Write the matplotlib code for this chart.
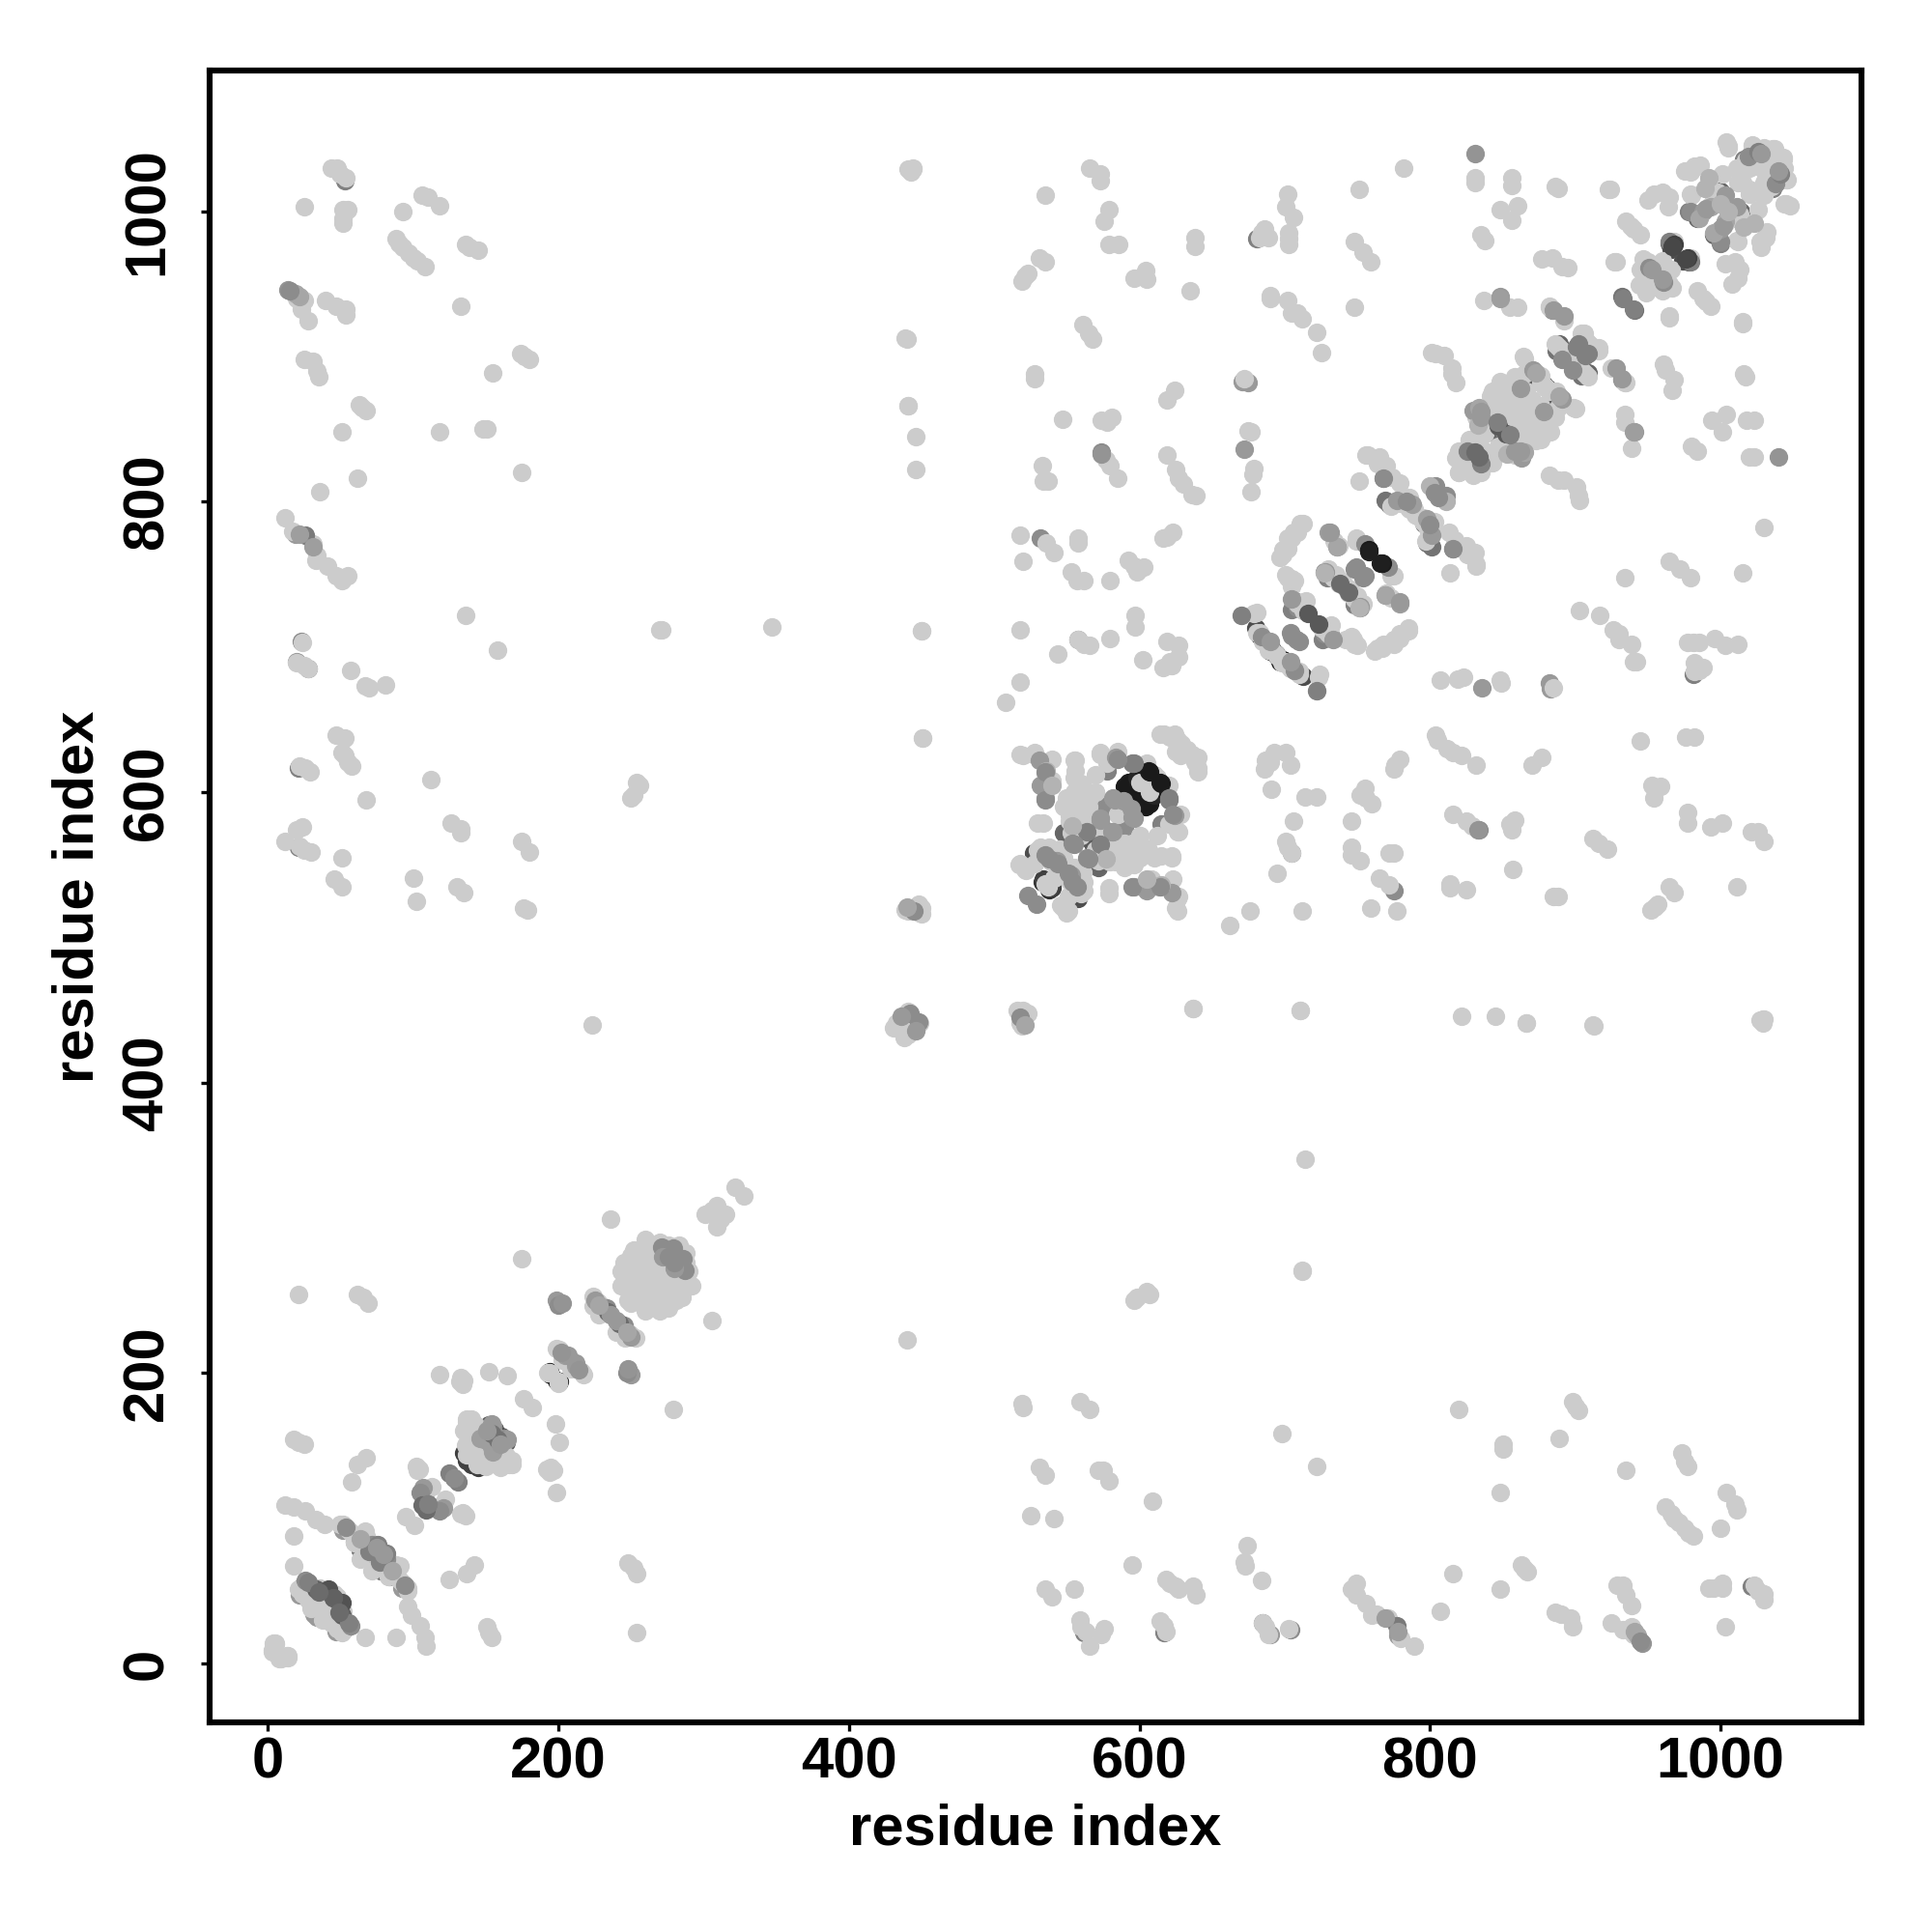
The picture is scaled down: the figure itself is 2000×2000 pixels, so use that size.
import matplotlib
matplotlib.use("Agg")
import matplotlib.pyplot as plt

plt.rcParams['font.family'] = ['Liberation Sans', 'DejaVu Sans']

# contacts are read once (i, j) and drawn on both sides of the diagonal
# darker discs that only show as a rim below the light ones: (i, j, grey)
under_contacts = [
    (24, 53, .55), (28, 50, .45), (22, 47, .6), (38, 45, .4), (35, 42, .5), (34, 32, .6), (42, 33, .6), (30, 42, .5),
    (52, 92, .6), (60, 84, .5), (64, 78, .45), (68, 76, .5), (66, 84, .55),
    (135, 145, .25), (140, 137, .25), (152, 164, .35), (156, 161, .3), (142, 156, .6),
    (195, 199, .15), (194, 201, .15),
    (268, 278, .35), (272, 283, .4), (276, 280, .35), (271, 289, .6),
    (574, 834, .55), (23, 704, .55), (20, 690, .6), (21, 617, .5), (21, 562, .5), (28, 685, .5),
    (53, 1021, .5), (19, 778, .6), (681, 981, .5),
    (532, 775, .55), (558, 705, .55), (671, 883, .6),
    (527, 558, .3), (538, 533, .2), (547, 548, .3), (534, 540, .25), (560, 586, .2), (548, 572, .4),
    (578, 615, .5), (592, 607, .1), (596, 604, .1), (598, 600, .1), (604, 590, .1), (610, 598, .15), (612, 603, .1),
    (575, 575, .55), (568, 565, .35), (578, 562, .25), (582, 556, .4), (575, 590, .55),
    (680, 713, .3), (683, 708, .2), (685, 705, .15), (688, 702, .1), (691, 699, .1), (694, 695, .1), (697, 690, .15), (702, 690, .2),
    (705, 726, .5), (707, 732, .5), (709, 727, .55), (727, 752, .55), (729, 748, .5), (744, 738, .55), (741, 742, .45),
    (769, 801, .45), (772, 798, .45), (778, 800, .3), (785, 796, .45), (800, 781, .5),
    (768, 816, .5), (826, 830, .45), (832, 860, .55), (836, 848, .4), (842, 848, .4), (850, 856, .35),
    (858, 880, .35), (866, 884, .35), (881, 878, .3), (965, 978, .4), (966, 974, .3),
    (884, 932, .55), (889, 909, .4), (887, 904, .45), (978, 1000, .5), (984, 995, .4), (995, 1006, .4), (1000, 1014, .4),
    (1016, 1036, .5), (1022, 1040, .5), (1026, 1032, .5), (1030, 1038, .5), (948, 956, .55), (950, 960, .6),
]

# the many pale contacts, all one shade
light_contacts = [
    # first stretch along the diagonal
    (3, 9), (5, 13), (8, 3), (14, 5), (4, 14), (12, 109), (18, 108), (26, 105), (33, 99), (39, 96), (18, 88), (18, 67),
    (21, 51), (24, 48), (28, 44), (32, 40), (36, 46), (40, 42), (30, 38), (46, 48), (44, 38), (28, 55), (36, 52),
    (50, 96), (52, 96), (58, 90), (62, 87), (67, 91), (68, 88), (70, 84), (66, 80), (60, 83), (56, 92), (74, 76), (64, 72),
    (62, 254), (66, 252), (69, 248), (21, 254), (18, 154), (21, 152), (25, 151), (68, 142), (62, 137), (58, 125),
    (102, 136), (104, 134), (103, 133), (113, 122), (108, 116), (95, 101), (118, 199), (132, 194), (133, 197), (134, 192),
    (152, 201), (165, 198), (175, 279), (236, 306), (176, 182), (135, 195), (137, 166), (143, 164), (150, 160), (155, 163),
    (137, 144), (137, 168), (140, 150), (145, 160), (138, 155), (146, 150), (142, 143), (135, 160), (136, 150), (168, 140),
    (199, 217), (201, 216), (205, 210), (209, 203), (194, 200), (193, 200), (224, 253), (230, 246), (227, 249), (240, 228), (246, 224),
    (243, 270), (245, 276), (248, 262), (250, 281), (252, 256), (255, 268), (256, 276), (258, 285), (260, 262), (262, 272),
    (263, 280), (265, 287), (266, 268), (268, 276), (270, 290), (272, 282), (255, 262), (258, 272), (250, 270), (248, 250),
    (243, 260), (252, 285), (260, 292), (262, 266), (258, 258), (265, 275), (283, 288), (274, 284), (282, 284), (284, 278), (288, 276),
    (309, 315), (301, 309), (322, 328), (306, 312), (309, 311), (223, 440), (347, 714), (271, 712),
    # first stretch against the far part of the chain
    (44, 1030), (48, 1030), (54, 1023), (50, 1026), (25, 1003), (52, 1001), (52, 992), (55, 1001), (52, 995),
    (93, 1000), (110, 1010), (118, 1004), (106, 1011), (88, 981), (93, 975), (97, 971), (103, 966), (108, 962), (90, 978), (100, 968),
    (136, 977), (145, 973), (139, 975), (25, 939), (23, 933), (28, 925), (40, 939), (47, 935), (54, 933), (54, 929), (133, 935),
    (25, 898), (35, 886), (31, 897), (34, 890), (174, 902), (180, 898), (177, 900), (155, 889), (63, 867), (68, 863), (65, 865), (51, 848),
    (118, 848), (151, 850), (148, 850), (175, 820), (62, 816), (36, 807), (12, 789), (17, 780), (31, 771), (34, 763), (33, 760), (41, 756),
    (47, 749), (55, 749), (51, 746), (136, 722), (158, 698), (24, 703), (20, 689), (25, 687), (28, 685), (57, 684), (67, 673), (70, 672), (81, 674),
    (47, 639), (53, 637), (51, 627), (58, 618), (55, 621), (53, 625), (68, 595), (112, 609), (22, 618), (26, 617), (29, 614), (24, 576), (20, 574),
    (12, 566), (22, 563), (25, 560), (30, 559), (51, 555), (46, 540), (51, 535), (100, 541), (102, 525), (126, 579), (133, 575), (133, 572),
    (130, 535), (135, 531), (175, 566), (180, 559), (176, 520), (179, 519), (270, 712), (254, 607), (250, 596), (256, 605), (252, 598),
    # helix around residue 440
    (433, 441), (441, 449), (444, 442), (438, 431), (439, 519), (441, 518), (449, 517), (448, 523), (444, 520), (450, 516),
    (451, 637), (450, 711), (446, 822), (441, 866), (439, 913), (441, 1029), (444, 1029), (442, 519), (450, 520),
    (711, 450), (637, 451), (845, 446), (866, 441), (912, 440), (1027, 443), (1030, 444),
    # block 520-640
    (518, 626), (527, 626), (540, 623), (534, 579), (530, 579), (540, 608), (556, 622), (556, 615), (573, 627), (578, 620), (605, 620),
    (619, 605), (626, 573), (562, 603), (570, 600), (554, 592), (552, 584), (562, 584), (530, 560), (539, 552), (517, 550), (521, 547),
    (528, 551), (535, 537), (551, 518), (546, 522), (532, 562), (538, 562), (557, 586), (560, 592), (555, 597), (565, 590), (570, 582), (575, 572),
    (577, 560), (570, 560), (572, 553), (582, 554), (590, 556), (600, 570), (605, 558), (612, 570), (622, 555), (585, 560), (595, 565),
    (600, 555), (610, 555), (528, 627), (535, 613), (545, 561), (548, 555), (541, 541), (520, 625), (606, 560), (590, 548), (580, 552), (596, 550),
    (621, 638), (626, 636), (633, 629), (640, 624), (640, 617), (625, 628), (614, 640), (610, 612), (600, 607), (585, 585), (628, 585),
    # far contacts of 500-640
    (566, 1030), (573, 1026), (573, 1021), (535, 1011), (579, 1001), (576, 993), (579, 977), (586, 977), (638, 982), (638, 976),
    (531, 968), (535, 965), (523, 957), (519, 952), (521, 955), (604, 959), (596, 954), (605, 953), (635, 945), (561, 922), (565, 916), (568, 912),
    (528, 885), (528, 888), (624, 877), (619, 870), (547, 857), (574, 856), (581, 858), (578, 855), (533, 825), (534, 814), (537, 814),
    (577, 829), (585, 816), (580, 825), (619, 832), (625, 822), (627, 816), (636, 805), (639, 804), (630, 812), (518, 777), (536, 772), (541, 765),
    (520, 759), (558, 775), (558, 772), (553, 752), (557, 746), (562, 746), (580, 746), (592, 760), (598, 752), (603, 755), (596, 756),
    (623, 779), (616, 775), (619, 776), (518, 712), (544, 695), (558, 705), (562, 702), (566, 701), (580, 706), (597, 722), (597, 714),
    (602, 691), (619, 704), (627, 701), (622, 687), (627, 693), (616, 686), (621, 690), (518, 676), (508, 662),
    # far contacts of 670-790
    (702, 1012), (701, 1003), (706, 996), (703, 981), (703, 985), (703, 977), (684, 985), (689, 982), (686, 988), (683, 982),
    (751, 1015), (782, 1030), (748, 979), (754, 972), (759, 965), (690, 942), (690, 940), (702, 939), (705, 930), (712, 926), (709, 930), (722, 917), (725, 903),
    (748, 934), (678, 819), (677, 807), (679, 823), (675, 849), (677, 848), (711, 785), (706, 779), (699, 767), (697, 762), (702, 775),
    (702, 748), (707, 746), (705, 742), (709, 730), (679, 723), (715, 732), (712, 727),
    (731, 713), (725, 713), (747, 705), (750, 701), (764, 699), (779, 709), (785, 713), (768, 702), (775, 705),
    (681, 710), (685, 704), (690, 700), (695, 694), (698, 689), (706, 685), (710, 683), (724, 681), (722, 670), (704, 688),
    (749, 775), (773, 749), (744, 737), (773, 734), (735, 750), (740, 745), (730, 754), (733, 748), (770, 737),
    (756, 832), (765, 831), (770, 825), (774, 817), (779, 813), (751, 814), (757, 832), (764, 826), (782, 801), (789, 795), (783, 798), (791, 790), (786, 803),
    (780, 799), (773, 797), (786, 795), (801, 780),
    # second big cluster on the diagonal
    (818, 830), (820, 820), (825, 828), (835, 820), (843, 827), (835, 846), (838, 847), (828, 838), (832, 858), (836, 836), (845, 835), (827, 842),
    (843, 876), (843, 868), (848, 883), (858, 886), (866, 876), (856, 866), (851, 871), (853, 858), (848, 862), (860, 874), (855, 880), (862, 862),
    (842, 873), (864, 900), (876, 887), (865, 888), (899, 865), (870, 870), (858, 870), (850, 850), (840, 860), (857, 850), (850, 866), (845, 855),
    (882, 876), (878, 880),
    # last part of the chain
    (882, 935), (904, 916), (906, 911), (906, 916), (910, 908), (888, 907), (886, 909), (890, 905), (895, 900), (934, 882), (925, 892), (900, 905),
    (947, 967), (950, 965), (945, 960), (960, 966), (952, 963), (944, 949), (954, 962), (948, 954), (955, 956), (958, 948), (968, 979),
    (935, 993), (940, 988), (945, 984), (938, 990), (954, 1012), (960, 1013), (965, 1010), (964, 1003), (950, 1008), (927, 965), (923, 1015), (979, 1012),
    (982, 1031), (975, 1028), (986, 1032), (981, 1030), (979, 1027), (1005, 1045), (1001, 1026), (998, 1013), (1003, 992), (1011, 980), (995, 1010),
    (1022, 1046), (1030, 1044), (1036, 1043), (1043, 1037), (1025, 1031), (1030, 1035), (1020, 1030), (1035, 1040), (1040, 1034), (1045, 1022),
    (1044, 1005), (1048, 1004), (1010, 1000), (1005, 1000), (1020, 1012), (1015, 1020), (1011, 1030), (1013, 1028),
    (1031, 1037), (1023, 1039), (1017, 1035), (1027, 1031), (940, 20),
    # scattered between the two
    (886, 1017), (888, 1016), (895, 961), (884, 968), (877, 967), (891, 962), (855, 934), (860, 934), (837, 939), (835, 984), (838, 980),
    (856, 1023), (856, 1018), (848, 1001), (860, 1004), (856, 994), (831, 1023), (831, 1020), (801, 903), (810, 901), (815, 888), (818, 882),
    (804, 902), (815, 892), (924, 1015), (928, 965),
]

# discs that stay fully visible on top: (i, j, grey)
over_contacts = [
    (26, 57, .55), (33, 51, .38), (42, 51, .32), (45, 45, .38), (28, 56, .5), (35, 49, .42),
    (54, 94, .55), (72, 82, .55), (76, 82, .5), (70, 77, .5), (64, 86, .65), (80, 75, .6),
    (107, 121, .6), (105, 118, .55), (106, 109, .42), (110, 110, .5), (125, 131, .5), (128, 128, .55),
    (155, 163, .55), (154, 165, .6), (146, 155, .62), (149, 154, .62), (154, 158, .45), (160, 151, .6),
    (205, 212, .62), (207, 212, .6), (202, 214, .58), (199, 250, .6), (200, 247, .55), (203, 248, .58),
    (225, 250, .6), (233, 245, .55), (234, 242, .42), (236, 240, .6), (228, 247, .65),
    (271, 287, .55), (279, 286, .55), (272, 280, .6), (280, 276, .55),
    (14, 946, .58), (19, 943, .65), (22, 941, .65), (26, 777, .48), (22, 778, .62), (31, 769, .62),
    (945, 15, .55), (442, 448, .55), (436, 446, .6), (445, 518, .55), (440, 521, .65),
    (531, 622, .6), (536, 615, .7), (532, 605, .6), (535, 596, .6), (584, 624, .6), (595, 620, .5),
    (606, 615, .12), (614, 607, .1), (620, 596, .5), (623, 585, .55), (582, 596, .6), (589, 594, .6), (595, 583, .6),
    (573, 582, .6), (581, 573, .6), (564, 573, .5), (554, 577, .7), (555, 564, .55), (565, 554, .55),
    (535, 557, .55), (543, 553, .6), (551, 544, .55), (554, 538, .55), (523, 529, .55), (595, 535, .55), (614, 535, .55), (605, 540, .7),
    (574, 833, .58), (672, 836, .6), (675, 882, .6), (672, 885, .8), (670, 722, .5),
    (684, 707, .55), (690, 704, .6), (705, 708, .55), (710, 704, .55), (733, 705, .6), (716, 723, .35),
    (730, 779, .62), (736, 769, .6), (752, 728, .6), (769, 736, .65), (779, 731, .6), (727, 751, .7), (738, 744, .42),
    (749, 755, .55), (754, 748, .55), (755, 771, .55), (758, 767, .1), (766, 758, .12),
    (768, 816, .55), (777, 801, .6), (788, 798, .62), (784, 800, .55), (804, 811, .55), (800, 811, .7), (803, 806, .55),
    (826, 835, .5), (831, 834, .42), (830, 863, .6), (834, 865, .65), (833, 853, .7), (835, 858, .6), (835, 862, .6), (847, 852, .35), (846, 855, .5),
    (862, 878, .6), (871, 891, .6), (873, 889, .65), (885, 932, .6), (892, 928, .6),
    (891, 898, .55), (902, 909, .5), (907, 901, .5), (932, 941, .45), (933, 940, .5), (848, 941, .6), (848, 940, .62),
    (965, 979, .5), (968, 977, .25), (967, 976, .28), (951, 961, .55), (953, 960, .6), (831, 1040, .58),
    (992, 1023, .7), (989, 1016, .7), (1003, 1011, .6), (993, 1003, .65), (979, 1000, .55), (988, 1000, .6), (985, 995, .65), (990, 1002, .6), (1000, 1005, .7),
    (1019, 1038, .55), (1026, 1041, .5), (1028, 1040, .6),
]


def draw_contacts(ax, contacts, grey=None):
    """Puts each contact on both sides of the diagonal."""
    for c in contacts:
        g = grey if grey is not None else c[2]
        ax.scatter([c[0], c[1]], [c[1], c[0]], s=48, color=str(g), linewidths=0, zorder=3)


fig = plt.figure(figsize=(10, 10), dpi=200)
ax = fig.add_axes([0.1085, 0.1085, 0.855, 0.855])

draw_contacts(ax, under_contacts)
draw_contacts(ax, light_contacts, grey=0.8)
draw_contacts(ax, over_contacts)

ax.set_xlim(-40, 1097)
ax.set_ylim(-40.6, 1097)
ax.set_xticks([0, 200, 400, 600, 800, 1000])
ax.set_yticks([0, 200, 400, 600, 800, 1000])
ax.tick_params(axis='x', length=3.2, width=1.2, labelsize=21.5, pad=2)
ax.tick_params(axis='y', length=3.2, width=1.2, labelsize=21.5, pad=10)
for lab in ax.get_xticklabels() + ax.get_yticklabels():
    lab.set_fontweight('bold')
for lab in ax.get_yticklabels():
    lab.set_rotation(90)
    lab.set_va('center')
for s in ax.spines.values():
    s.set_linewidth(2.2)
ax.set_xlabel('residue index', fontsize=21.5, fontweight='bold', labelpad=5)
ax.set_ylabel('residue index', fontsize=21.5, fontweight='bold', labelpad=6)

fig.savefig('out.png', dpi=200)
